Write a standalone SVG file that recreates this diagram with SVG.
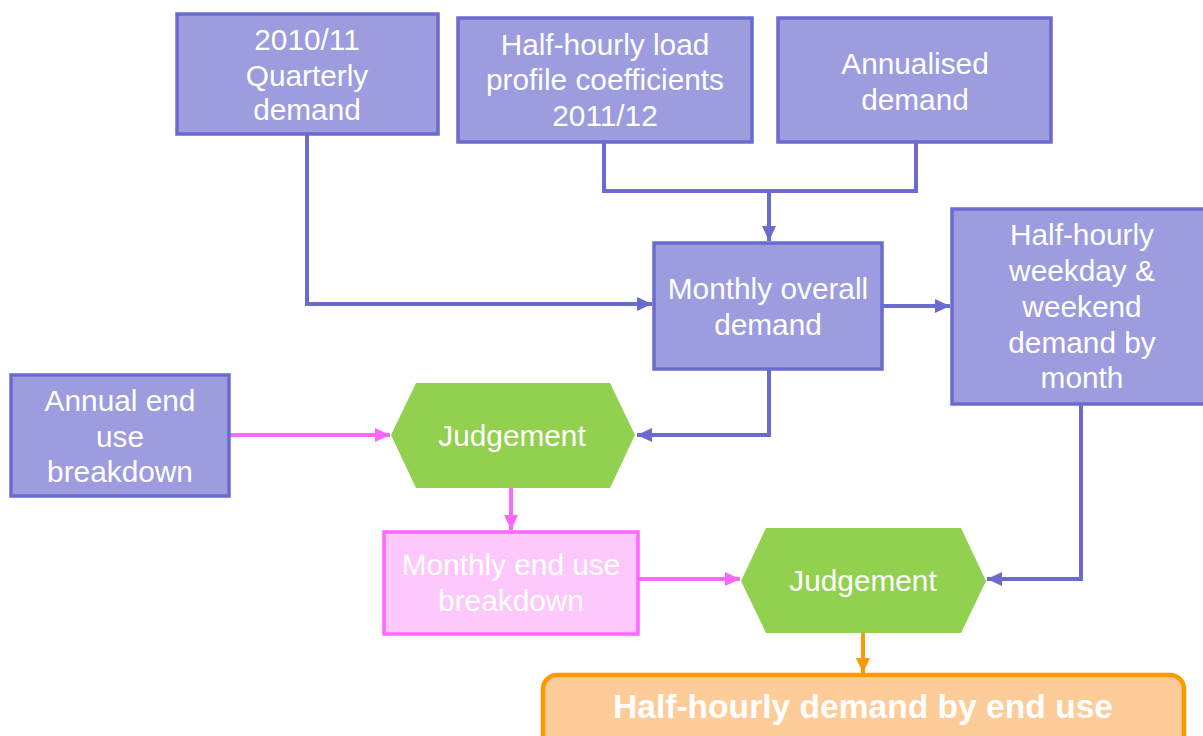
<svg xmlns="http://www.w3.org/2000/svg" width="1203" height="736" viewBox="0 0 1203 736">
<style>
.pb{fill:#9d9cdf;stroke:#6b6bcf;stroke-width:3.5}
.pk{fill:#fdc9fd;stroke:#ff66ff;stroke-width:3.5}
.hx{fill:#92d050}
.or{fill:#fecc99;stroke:#ff9900;stroke-width:4.5}
text{font-family:"Liberation Sans",Arial,sans-serif;font-size:29.8px;fill:#ffffff;text-anchor:middle}
.big{font-size:33.6px;font-weight:bold}
.cp{fill:none;stroke:#6b6bcf;stroke-width:4}
.ck{fill:none;stroke:#ff66ff;stroke-width:4}
.co{fill:none;stroke:#ff9900;stroke-width:4}
</style>
<defs>
<marker id="ap" markerUnits="userSpaceOnUse" markerWidth="16" markerHeight="16" refX="15" refY="8" orient="auto"><path d="M0,1 L15,8 L0,15 Z" fill="#6b6bcf"/></marker>
<marker id="ak" markerUnits="userSpaceOnUse" markerWidth="16" markerHeight="16" refX="15" refY="8" orient="auto"><path d="M0,1 L15,8 L0,15 Z" fill="#ff66ff"/></marker>
<marker id="ao" markerUnits="userSpaceOnUse" markerWidth="16" markerHeight="16" refX="15" refY="8" orient="auto"><path d="M0,1 L15,8 L0,15 Z" fill="#ff9900"/></marker>
</defs>
<g id="connectors">
<path class="cp" d="M307,134 V304 H652" marker-end="url(#ap)"/>
<path class="cp" d="M604,142 V191 H916 V142"/>
<path class="cp" d="M769,191 V241" marker-end="url(#ap)"/>
<path class="cp" d="M882,306 H950" marker-end="url(#ap)"/>
<path class="cp" d="M769,369 V435 H637" marker-end="url(#ap)"/>
<path class="ck" d="M229,435 H390" marker-end="url(#ak)"/>
<path class="ck" d="M511,488 V530" marker-end="url(#ak)"/>
<path class="ck" d="M638,579 H740" marker-end="url(#ak)"/>
<path class="cp" d="M1081,404 V579 H987" marker-end="url(#ap)"/>
<path class="co" d="M863,633 V673" marker-end="url(#ao)"/>
</g>
<g id="n1"><rect class="pb" x="177" y="14" width="261" height="120"/>
<text x="307" y="50">2010/11</text><text x="307" y="86">Quarterly</text><text x="307" y="120">demand</text></g>
<g id="n2"><rect class="pb" x="458" y="18" width="294" height="124"/>
<text x="605" y="55">Half-hourly load</text><text x="605" y="90">profile coefficients</text><text x="605" y="126">2011/12</text></g>
<g id="n3"><rect class="pb" x="778" y="18" width="273" height="124"/>
<text x="915" y="74">Annualised</text><text x="915" y="110">demand</text></g>
<g id="n4"><rect class="pb" x="654" y="243" width="228" height="126"/>
<text x="768" y="299">Monthly overall</text><text x="768" y="335">demand</text></g>
<g id="n5"><rect class="pb" x="952" y="209" width="260" height="195"/>
<text x="1082" y="245">Half-hourly</text><text x="1082" y="281">weekday &amp;</text><text x="1082" y="317">weekend</text><text x="1082" y="353">demand by</text><text x="1082" y="388">month</text></g>
<g id="n6"><rect class="pb" x="11" y="375" width="218" height="121"/>
<text x="120" y="411">Annual end</text><text x="120" y="447">use</text><text x="120" y="482">breakdown</text></g>
<g id="n7"><polygon class="hx" points="391,435 416,383 610,383 635,435 610,488 416,488"/>
<text x="512" y="446">Judgement</text></g>
<g id="n8"><rect class="pk" x="384" y="532" width="254" height="102"/>
<text x="511" y="575">Monthly end use</text><text x="511" y="611">breakdown</text></g>
<g id="n9"><polygon class="hx" points="741,581 766,528 961,528 986,581 961,633 766,633"/>
<text x="863" y="591">Judgement</text></g>
<g id="n10"><rect class="or" x="543" y="675" width="641" height="80" rx="14"/>
<text class="big" x="863" y="718">Half-hourly demand by end use</text></g>
</svg>
